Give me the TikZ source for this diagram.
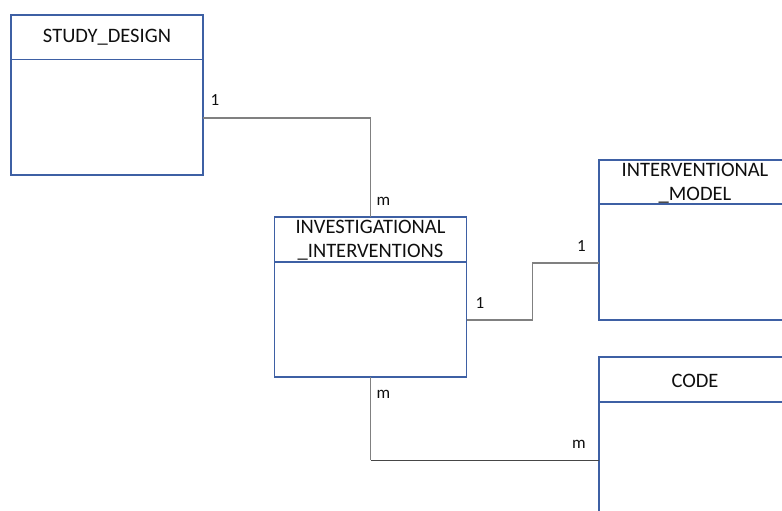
\documentclass[tikz,border=0pt]{standalone}
\usepackage{fontspec}
\setmainfont{Carlito}
\definecolor{boxblue}{RGB}{62,96,164}
\definecolor{linegray}{RGB}{128,128,128}
\definecolor{linedark}{RGB}{70,70,70}
\definecolor{txt}{RGB}{15,15,15}
\begin{document}
\begin{tikzpicture}[x=1pt,y=-1pt,
  entity/.style={draw=boxblue, line width=1.6pt, minimum width=192pt, minimum height=160pt, inner sep=0pt, outer sep=0pt},
  hline/.style={draw=boxblue, line width=1.6pt},
  title/.style={font=\fontsize{20.5}{24}\selectfont, text=txt, align=center, inner sep=0pt},
  card/.style={font=\fontsize{17}{20}\selectfont, text=txt, inner sep=0pt},
  rel/.style={draw=linegray, line width=1.1pt},
  reldark/.style={draw=linedark, line width=0.8pt}]
\useasboundingbox (0,0) rectangle (782,511);
\begin{scope}
\clip (0,0) rectangle (782,511);
% entities
\node[entity] (sd) at (107,95) {};
\node[entity] (inv) at (370.5,297) {};
\node[entity] (im) at (695,240) {};
\node[entity] (code) at (695,437) {};
% header separators
\draw[hline] ([yshift=-44.5pt]sd.north west) -- ([yshift=-44.5pt]sd.north east);
\draw[hline] ([yshift=-45pt]inv.north west) -- ([yshift=-45pt]inv.north east);
\draw[hline] ([yshift=-44pt]im.north west) -- ([yshift=-44pt]im.north east);
\draw[hline] ([yshift=-45pt]code.north west) -- ([yshift=-45pt]code.north east);
% titles
\node[title] (sdt) at ([yshift=-22pt]sd.north) {STUDY\_DESIGN};
\node[title] (invt) at ([yshift=-23pt]inv.north) {INVESTIGATIONAL\\\_INTERVENTIONS};
\node[title] (imt) at ([yshift=-23pt]im.north) {INTERVENTIONAL\\\_MODEL};
\node[title] (codet) at ([yshift=-24pt]code.north) {CODE};
% connector anchors
\coordinate (sdout) at ([yshift=-23pt]sd.east);
\coordinate (invout) at ([yshift=-23pt]inv.east);
\coordinate (imin) at ([yshift=-23pt]im.west);
\coordinate (codein) at ([yshift=-23pt]code.west);
\coordinate (c3) at (inv.south |- codein);
% connectors
\draw[rel] (sdout) -| (inv.north);
\draw[rel] (invout) -- ++(66,0) |- (imin);
\draw[rel] (inv.south) -- (c3);
\draw[reldark] (c3) -- (codein);
% cardinalities
\node[card] (l1) at (215,100) {1};
\node[card] (l2) at (383.5,201) {m};
\node[card] (l3) at (480,303) {1};
\node[card] (l4) at (581.5,246) {1};
\node[card] (l5) at (383.5,394) {m};
\node[card] (l6) at (579,444) {m};
\end{scope}
\end{tikzpicture}
\end{document}
